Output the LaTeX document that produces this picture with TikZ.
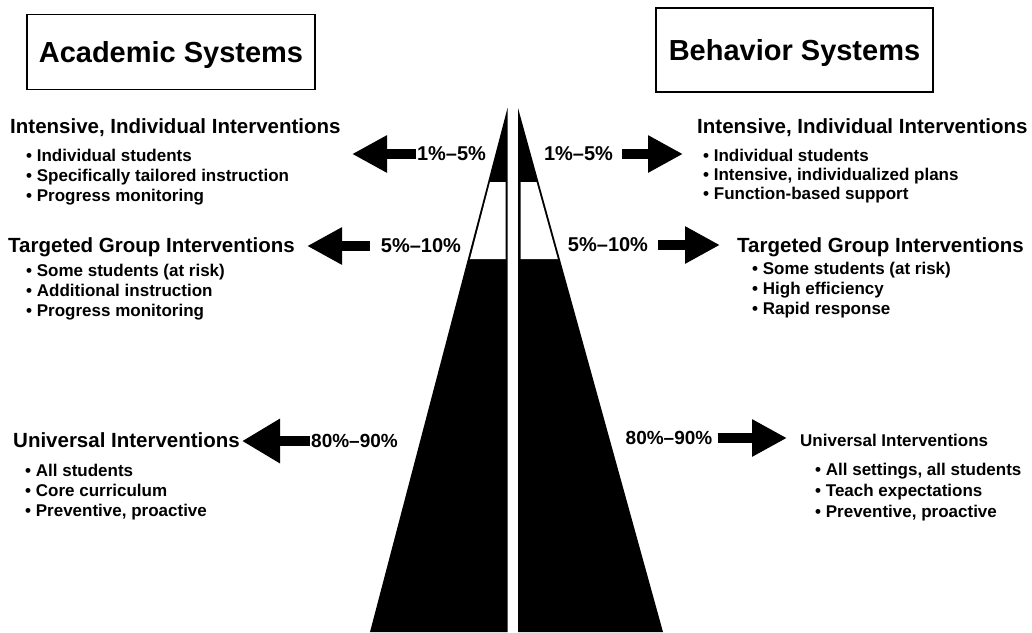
\documentclass[tikz,border=0pt]{standalone}
\usepackage{fontspec}
\setmainfont{Liberation Sans}
\usetikzlibrary{arrows.meta}

\tikzset{
  titlebox/.style={draw, line width=1.8pt, inner sep=0pt, text height=21pt, text depth=0pt,
    font=\fontsize{29}{34}\selectfont\bfseries},
  tierhead/.style={anchor=base west, inner sep=0pt, font=\fontsize{20.5}{24}\selectfont\bfseries},
  tieritem/.style={anchor=base west, inner sep=0pt, font=\fontsize{17}{20}\selectfont\bfseries},
  pct/.style={inner sep=1pt, font=\fontsize{20}{24}\selectfont\bfseries},
  blockarrow/.style={line width=10pt, -{Triangle[length=35pt, width=35pt]}},
}

\begin{document}
\begin{tikzpicture}[x=1pt, y=-1pt]
\useasboundingbox (0,0) rectangle (1032,632);

% pyramid, split in two halves
\fill (507.5,108) -- (507.5,632) -- (370,632) -- cycle;
\fill[white] (490,182) -- (505.5,182) -- (505.5,259) -- (470,259) -- cycle;
\fill (518,108) -- (663,632) -- (518,632) -- cycle;
\fill[white] (520.5,182) -- (536.5,182) -- (557.8,259) -- (520.5,259) -- cycle;

% titles
\node[titlebox, minimum width=288pt, minimum height=75pt] (acad) at (171,52) {Academic Systems};
\node[titlebox, minimum width=277pt, minimum height=84pt] (behav) at (794.5,50) {Behavior Systems};

% academic side
\node[tierhead] (aInt) at (10,133) {Intensive, Individual Interventions};
\foreach \txt [count=\i] in {Individual students, Specifically tailored instruction, Progress monitoring}
  \node[tieritem] (aInt\i) at (26,{141+20*\i}) {• \txt};
\node[tierhead] (aTar) at (8,252) {Targeted Group Interventions};
\foreach \txt [count=\i] in {Some students (at risk), Additional instruction, Progress monitoring}
  \node[tieritem] (aTar\i) at (26,{256+20*\i}) {• \txt};
\node[tierhead] (aUni) at (13,447) {Universal Interventions};
\foreach \txt [count=\i] in {All students, Core curriculum, {Preventive, proactive}}
  \node[tieritem] (aUni\i) at (25,{456+20*\i}) {• \txt};

% behavior side
\node[tierhead] (bInt) at (697,133) {Intensive, Individual Interventions};
\foreach \txt [count=\i] in {Individual students, {Intensive, individualized plans}, Function-based support}
  \node[tieritem] (bInt\i) at (703,{142+19*\i}) {• \txt};
\node[tierhead] (bTar) at (737,252) {Targeted Group Interventions};
\foreach \txt [count=\i] in {Some students (at risk), High efficiency, Rapid response}
  \node[tieritem] (bTar\i) at (752,{254+20*\i}) {• \txt};
\node[tierhead, font=\fontsize{17}{20}\selectfont\bfseries] (bUni) at (800,446) {Universal Interventions};
\foreach \txt [count=\i] in {{All settings, all students}, Teach expectations, {Preventive, proactive}}
  \node[tieritem] (bUni\i) at (815,{454+21*\i}) {• \txt};

% percentages
\node[pct] (aP1) at (451.5,154) {1\%--5\%};
\node[pct] (aP2) at (421,246) {5\%--10\%};
\node[pct, font=\fontsize{19}{23}\selectfont\bfseries] (aP3) at (354.5,441) {80\%--90\%};
\node[pct] (bP1) at (578.5,154) {1\%--5\%};
\node[pct] (bP2) at (608,245) {5\%--10\%};
\node[pct, font=\fontsize{19}{23}\selectfont\bfseries] (bP3) at (669,438) {80\%--90\%};

% arrow tips
\coordinate (aT1) at (352,154);
\coordinate (aT2) at (307,246);
\coordinate (aT3) at (242,441);
\coordinate (bT1) at (683,154);
\coordinate (bT2) at (720,245);
\coordinate (bT3) at (787,438);

\draw[blockarrow] (aP1.west) -- (aT1);
\draw[blockarrow, shorten <=10pt] (aP2.west) -- (aT2);
\draw[blockarrow, -{Triangle[length=38pt, width=42pt]}] (aP3.west) -- (aT3);
\draw[blockarrow, shorten <=8pt] (bP1.east) -- (bT1);
\draw[blockarrow, shorten <=9pt] (bP2.east) -- (bT2);
\draw[blockarrow, shorten <=4pt] (bP3.east) -- (bT3);
\end{tikzpicture}
\end{document}
